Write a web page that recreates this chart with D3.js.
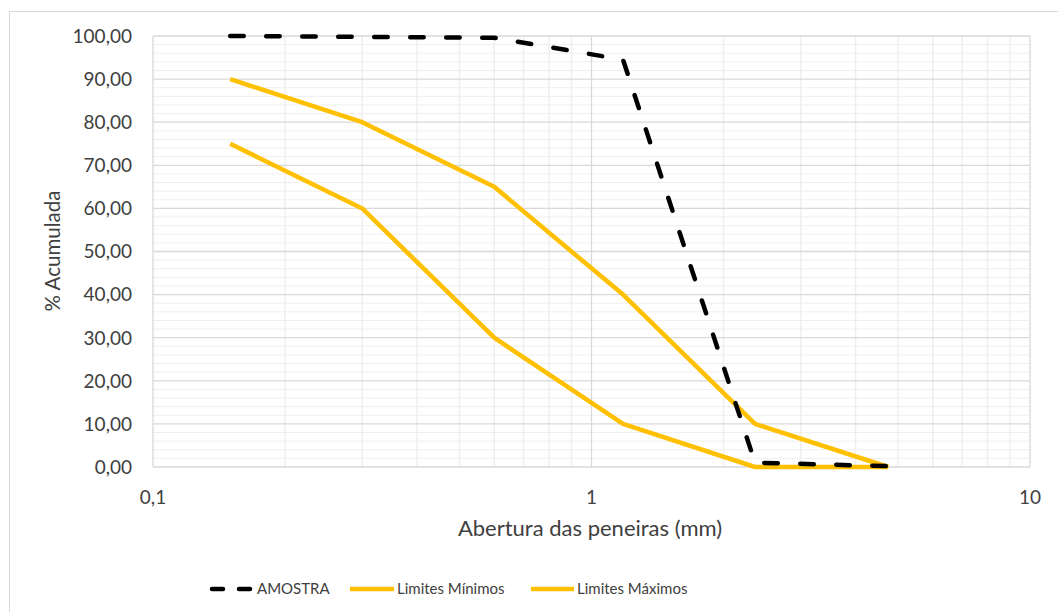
<!DOCTYPE html>
<html><head><meta charset="utf-8">
<script src="https://cdn.jsdelivr.net/npm/d3@7"></script>
<style>body{margin:0;background:#fff}svg{display:block}text{font-family:Lato,"Open Sans",sans-serif;fill:#404040}</style>
</head><body><svg id="c" width="1058" height="612"></svg>
<script>
const sieves = [0.15, 0.3, 0.6, 1.18, 2.36, 4.75];
const amostra = [100, 99.8, 99.6, 94.5, 1.0, 0.2];
const limMin = [75, 60, 30, 10, 0, 0];
const limMax = [90, 80, 65, 40, 10, 0];
const yTicks = [0,10,20,30,40,50,60,70,80,90,100];
const xTicks = [0.1, 1, 10];
const xTickLabels = ["0,1", "1", "10"];
const seriesNames = ["AMOSTRA", "Limites Mínimos", "Limites Máximos"];

const svg = d3.select("#c");
const L = 153, R = 1030, T = 36, B = 467;
const x = d3.scaleLog().domain([0.1, 10]).range([L, R]);
const y = d3.scaleLinear().domain([0, 100]).range([B, T]);

svg.append("rect").attr("x", 9.5).attr("y", 11.5).attr("width", 1060).attr("height", 620)
  .attr("fill", "none").attr("stroke", "#d9d9d9");

const g = svg.append("g");
d3.range(0, 101, 2).filter(v => v % 10 !== 0).forEach(v => {
  g.append("line").attr("x1", L).attr("x2", R).attr("y1", y(v)).attr("y2", y(v)).attr("stroke", "#efefef").attr("stroke-width", 1);
});
const minorX = [];
[0.1, 1].forEach(d => { for (let k = 2; k <= 9; k++) minorX.push(d * k); });
minorX.forEach(v => {
  g.append("line").attr("x1", x(v)).attr("x2", x(v)).attr("y1", T).attr("y2", B).attr("stroke", "#efefef").attr("stroke-width", 1.5);
});
yTicks.forEach(v => {
  g.append("line").attr("x1", L).attr("x2", R).attr("y1", y(v)).attr("y2", y(v)).attr("stroke", "#d9d9d9").attr("stroke-width", 1.3);
});
xTicks.forEach(v => {
  g.append("line").attr("x1", x(v)).attr("x2", x(v)).attr("y1", T).attr("y2", B).attr("stroke", "#d9d9d9").attr("stroke-width", 1.3);
});

yTicks.forEach(v => {
  svg.append("text").attr("x", 132).attr("y", y(v)).attr("dy", "0.36em").attr("text-anchor", "end")
    .attr("font-size", 19).text(d3.format(".2f")(v).replace(".", ","));
});
xTicks.forEach((v, i) => {
  svg.append("text").attr("x", x(v)).attr("y", 497).attr("dy", "0.36em").attr("text-anchor", "middle")
    .attr("font-size", 19).text(xTickLabels[i]);
});
svg.append("text").attr("x", 590).attr("y", 528).attr("dy", "0.36em").attr("text-anchor", "middle")
  .attr("font-size", 22).text("Abertura das peneiras (mm)");
svg.append("text").attr("transform", "translate(53,251) rotate(-90)").attr("dy", "0.36em").attr("text-anchor", "middle")
  .attr("font-size", 20.5).text("% Acumulada");

const line = d3.line().x(d => x(d[0])).y(d => y(d[1]));
const gold = "#FFC000";
[limMin, limMax].forEach(s => {
  svg.append("path").attr("d", line(sieves.map((v, i) => [v, s[i]]))).attr("fill", "none")
    .attr("stroke", gold).attr("stroke-width", 4.5).attr("stroke-linejoin", "round");
});
svg.append("path").attr("d", line(sieves.map((v, i) => [v, amostra[i]]))).attr("fill", "none")
  .attr("stroke", "#000").attr("stroke-width", 4.5).attr("stroke-linecap", "round")
  .attr("stroke-dasharray", "13.5,22.5");

const ly = 589;
svg.append("line").attr("x1", 212).attr("x2", 223).attr("y1", ly).attr("y2", ly).attr("stroke", "#000").attr("stroke-width", 4.5).attr("stroke-linecap", "round");
svg.append("line").attr("x1", 239).attr("x2", 250).attr("y1", ly).attr("y2", ly).attr("stroke", "#000").attr("stroke-width", 4.5).attr("stroke-linecap", "round");
svg.append("text").attr("x", 257).attr("y", ly).attr("dy", "0.36em").attr("font-size", 15).text(seriesNames[0]);
svg.append("line").attr("x1", 350).attr("x2", 394).attr("y1", ly).attr("y2", ly).attr("stroke", gold).attr("stroke-width", 4.5);
svg.append("text").attr("x", 397).attr("y", ly).attr("dy", "0.36em").attr("font-size", 15).text(seriesNames[1]);
svg.append("line").attr("x1", 531).attr("x2", 574).attr("y1", ly).attr("y2", ly).attr("stroke", gold).attr("stroke-width", 4.5);
svg.append("text").attr("x", 577).attr("y", ly).attr("dy", "0.36em").attr("font-size", 15).text(seriesNames[2]);
</script></body></html>
